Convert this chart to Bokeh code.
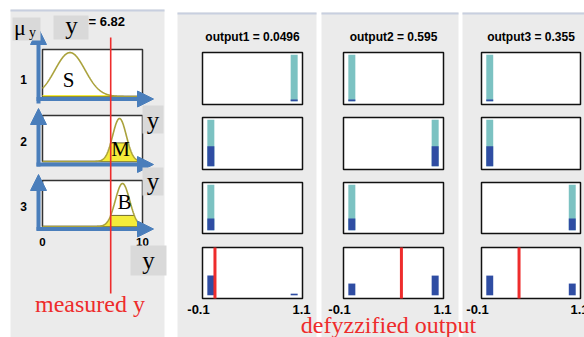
import numpy as np
from bokeh.plotting import figure
from bokeh.models import Range1d
from bokeh.core.properties import value
from bokeh.embed import file_html
from bokeh.resources import INLINE

# ---------------- data ----------------
input_label = "y"
input_range = [0, 10]
input_ticks = ["0", "10"]
measured_y = 6.82
mf_labels = ["S", "M", "B"]
mf_centers = [2.75, 7.7, 8.0]
mf_sigmas = [1.5, 0.68, 0.72]
rule_numbers = ["1", "2", "3"]
rule_strength = [0.036, 0.433, 0.258]

output_names = ["output1", "output2", "output3"]
output_values = [0.0496, 0.595, 0.355]
output_range = [-0.1, 1.1]
output_tick_labels = ["-0.1", "1.1"]
rule_consequents = [[1, 0, 0], [0, 1, 0], [0, 0, 1]]   # rule i -> constant of output j
aggregate_positions = [0, 1]

annot_left = "measured y"
annot_right = "defyzzified output"

# ---------------- styling / layout ----------------
SANS = "Liberation Sans"
SERIF = "Liberation Serif"
PANEL = "#ebebeb"
TOPLINE = "#c8cfdf"
LABELBOX = "#d9d9d9"
BLUE = "#4a7ebb"
OLIVE = "#aaa23c"
YELLOW = "#f4ec3a"
TEAL = "#7cc2c2"
DARK = "#2f4da3"
RED = "#ee2c2c"

p = figure(width=584, height=337, x_range=Range1d(0, 584), y_range=Range1d(337, 0),
           x_axis_type=None, y_axis_type=None, output_backend="svg",
           toolbar_location=None, min_border=0)
p.outline_line_color = None
p.background_fill_color = "white"
p.border_fill_color = "white"
p.grid.visible = False


def txt(x, y, s, size, font=SANS, style="normal", color="black", align="center",
        baseline="alphabetic"):
    dy = -(2 + 0.2 * size)
    p.text(x=[x], y=[y + dy], text=[s], text_font=value(font), text_font_size=f"{size}px",
           text_font_style=style, text_color=color, text_align=align,
           text_baseline=baseline)


# panel backgrounds
pl = [10, 177, 321, 462]
pr = [164, 316, 458, 584]
pt = [9, 12, 12, 12]
p.quad(left=pl, right=pr, top=pt, bottom=[337] * 4, fill_color=PANEL, line_color=None)
p.quad(left=pl, right=pr, top=pt, bottom=[t + 2 for t in pt], fill_color=TOPLINE,
       line_color=None)

# ---------------- left: input membership functions ----------------
LBX = (42, 142)
LBY = [(49, 96), (115, 161), (180, 226)]
MU_TOP = 1.07


def lx(v):
    v = np.asarray(v, dtype=float)
    return LBX[0] + (v - input_range[0]) / (input_range[1] - input_range[0]) * (LBX[1] - LBX[0])


def ly(r, mu):
    top, bot = LBY[r]
    return bot - np.asarray(mu, dtype=float) / MU_TOP * (bot - top)


p.quad(left=[LBX[0]] * 3, right=[LBX[1]] * 3, top=[b[0] for b in LBY],
       bottom=[b[1] for b in LBY], fill_color="white", line_color="#333333", line_width=1.5)

xs = np.linspace(input_range[0], input_range[1], 401)
for r in range(3):
    mu = np.exp(-(xs - mf_centers[r]) ** 2 / (2 * mf_sigmas[r] ** 2))
    w = rule_strength[r]
    clipped = np.minimum(mu, w)
    p.varea(x=lx(xs), y1=ly(r, np.zeros_like(xs)), y2=ly(r, clipped), fill_color=YELLOW)
    sel = xs[mu >= w]
    if r > 0 and len(sel):
        p.line(x=lx([sel.min(), sel.max()]), y=ly(r, [w, w]), line_color="#6f6a30",
               line_width=1)
    p.line(x=lx(xs), y=ly(r, mu), line_color=OLIVE, line_width=1.6)

# MF names
txt(68, 85.7, mf_labels[0], 21, font=SERIF)
txt(120, 155, mf_labels[1], 21, font=SERIF)
txt(124, 208, mf_labels[2], 21, font=SERIF)

# rule numbers and input ticks
for r, yb in enumerate([83.8, 145.7, 210.5]):
    txt(23, yb, rule_numbers[r], 12, style="bold")
txt(float(lx(input_range[0])), 246, input_ticks[0], 11.5, style="bold")
txt(float(lx(input_range[1])), 246, input_ticks[1], 11.5, style="bold")
txt(88, 26, f"= {measured_y:g}", 13, style="bold", align="left")

# blue axis arrows
AX = 38
vert = [(103, 28), (166, 108), (230, 174)]
horiz_y = [98.5, 164, 228.5]
TIPX = 153
HL = 16
p.segment(x0=[AX] * 3, y0=[v[0] for v in vert], x1=[AX] * 3, y1=[v[1] + HL - 2 for v in vert],
          line_color=BLUE, line_width=4)
p.segment(x0=[AX - 2] * 3, y0=horiz_y, x1=[TIPX - HL + 2] * 3, y1=horiz_y,
          line_color=BLUE, line_width=4)
heads_x, heads_y = [], []
for (b, t) in vert:
    heads_x.append([AX, AX - 8, AX + 8])
    heads_y.append([t, t + HL, t + HL])
for yy in horiz_y:
    heads_x.append([TIPX, TIPX - HL, TIPX - HL])
    heads_y.append([yy, yy - 8, yy + 8])
p.patches(xs=heads_x, ys=heads_y, fill_color=BLUE, line_color=BLUE, line_width=1)

# measured value line
mx = float(lx(measured_y))
p.segment(x0=[mx], y0=[37], x1=[mx], y1=[293], line_color=RED, line_width=1.6)

# gray label boxes
p.quad(left=[12, 53, 142, 142, 130], right=[40, 88, 163, 163, 166],
       top=[17, 15, 105, 167, 245], bottom=[40, 39, 133, 195, 275],
       fill_color=LABELBOX, line_color=None)
txt(13.5, 33, "\u03bc", 22, font=SERIF, align="left")
txt(28.5, 37, input_label, 14, font=SERIF, align="left")
txt(71, 32, input_label, 25, font=SERIF)
txt(152.5, 126.5, input_label, 25, font=SERIF)
txt(152.5, 188, input_label, 25, font=SERIF)
txt(148, 267, input_label, 25, font=SERIF)

txt(89.5, 310, annot_left, 24, font=SERIF, color=RED)

# ---------------- right: outputs ----------------
RBX = [(202, 302), (343, 443), (481, 580)]
RBY = [(52, 104), (117, 169), (182, 233), (247, 298)]
Y_LO, Y_HI = -0.07, 1.05
HALF = 0.042


def rx(c, v):
    l, r = RBX[c]
    return l + (np.asarray(v, dtype=float) - output_range[0]) / (output_range[1] - output_range[0]) * (r - l)


def ry(row, v):
    top, bot = RBY[row]
    return bot - (np.asarray(v, dtype=float) - Y_LO) / (Y_HI - Y_LO) * (bot - top)


bl, br, bt, bb = [], [], [], []
for c in range(3):
    for row in range(4):
        bl.append(RBX[c][0]); br.append(RBX[c][1])
        bt.append(RBY[row][0]); bb.append(RBY[row][1])
p.quad(left=bl, right=br, top=bt, bottom=bb, fill_color="white", line_color="#111111",
       line_width=1.5)

tl, tr, tt, tb = [], [], [], []
dl, dr, dt, db = [], [], [], []
for c in range(3):
    for i in range(3):
        k = rule_consequents[i][c]
        tl.append(float(rx(c, k - HALF))); tr.append(float(rx(c, k + HALF)))
        tt.append(float(ry(i, 1))); tb.append(float(ry(i, 0)))
        dl.append(float(rx(c, k - HALF))); dr.append(float(rx(c, k + HALF)))
        dt.append(float(ry(i, rule_strength[i]))); db.append(float(ry(i, 0)))
    for k in aggregate_positions:
        h = max(rule_strength[i] for i in range(3) if rule_consequents[i][c] == k)
        dl.append(float(rx(c, k - HALF))); dr.append(float(rx(c, k + HALF)))
        dt.append(float(ry(3, h))); db.append(float(ry(3, 0)))
p.quad(left=tl, right=tr, top=tt, bottom=tb, fill_color=TEAL, line_color=None)
p.quad(left=dl, right=dr, top=dt, bottom=db, fill_color=DARK, line_color=None)

ox = [float(rx(c, output_values[c])) for c in range(3)]
p.segment(x0=ox, y0=[RBY[3][0]] * 3, x1=ox, y1=[RBY[3][1]] * 3, line_color=RED,
          line_width=3)

for c in range(3):
    cx = (RBX[c][0] + RBX[c][1]) / 2
    txt(cx, 40.5, f"{output_names[c]} = {output_values[c]:g}", 12, style="bold")
    txt(RBX[c][0] - 4, 314, output_tick_labels[0], 13, style="bold")
    txt(RBX[c][1] - 1, 314, output_tick_labels[1], 13, style="bold")

txt(388, 331.5, annot_right, 24, font=SERIF, color=RED)

open("out.html", "w").write(file_html(p, INLINE))
